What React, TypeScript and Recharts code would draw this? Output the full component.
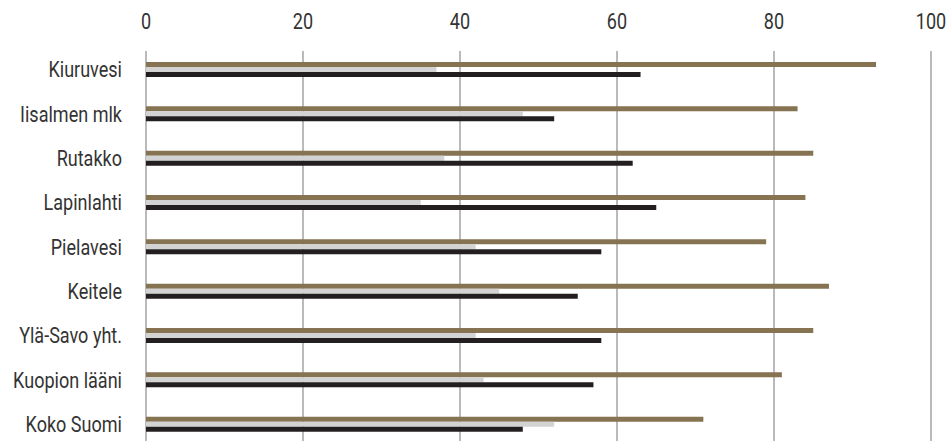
import React from 'react';
import { BarChart, Bar, XAxis, YAxis, CartesianGrid } from 'recharts';

const categories = [
	'Kiuruvesi',
	'Iisalmen mlk',
	'Rutakko',
	'Lapinlahti',
	'Pielavesi',
	'Keitele',
	'Ylä-Savo yht.',
	'Kuopion lääni',
	'Koko Suomi',
];

const seriesA = [93, 83, 85, 84, 79, 87, 85, 81, 71];
const seriesB = [37, 48, 38, 35, 42, 45, 42, 43, 52];
const seriesC = [63, 52, 62, 65, 58, 55, 58, 57, 48];

const xTicks = [0, 20, 40, 60, 80, 100];

const data = categories.map((name, i) => ({
	name,
	a: seriesA[i],
	b: seriesB[i],
	c: seriesC[i],
}));

const FONT = 'Roboto, sans-serif';
const SQUEEZE = 0.82;

// no condensed font installed, so narrow Roboto by hand
const CondensedTick = (props: any) => {
	const { x, y, payload, textAnchor, dy } = props;
	return (
		<g transform={`translate(${x},${y}) scale(${SQUEEZE},1)`}>
			<text
				x={0}
				y={0}
				dy={dy}
				textAnchor={textAnchor}
				fill="#333"
				style={{ fontSize: 22, fontFamily: FONT }}
			>
				{payload.value}
			</text>
		</g>
	);
};

const XTick = (props: any) => <CondensedTick {...props} textAnchor="middle" dy={0} />;
const YTick = (props: any) => <CondensedTick {...props} textAnchor="end" dy={8} />;

const App = () => {
	return (
		<div>
			{/* chart runs past the window bottom like the original; room on the right for the 100 label */}
			<style>{`body{overflow:hidden;margin:8px 0 0 8px} .recharts-surface{overflow:visible}`}</style>
			<BarChart
				width={939}
				height={450}
				data={data}
				layout="vertical"
				barGap={0}
				margin={{ top: 0, right: 16, bottom: 12, left: 8 }}
			>
				<CartesianGrid horizontal={false} stroke="#a3a3a3" strokeWidth={1.5} />
				<XAxis
					type="number"
					orientation="top"
					domain={[0, 100]}
					ticks={xTicks}
					height={43}
					axisLine={false}
					tickLine={false}
					tickSize={0}
					tickMargin={22}
					tick={<XTick />}
				/>
				<YAxis
					type="category"
					dataKey="name"
					width={130}
					padding={{ top: -4, bottom: 0 }}
					axisLine={false}
					tickLine={false}
					tickSize={0}
					tickMargin={24}
					tick={<YTick />}
				/>
				<Bar dataKey="a" fill="#857352" barSize={5} isAnimationActive={false} />
				<Bar dataKey="b" fill="#d3d3d3" barSize={5} isAnimationActive={false} />
				<Bar dataKey="c" fill="#231f20" barSize={5} isAnimationActive={false} />
			</BarChart>
		</div>
	);
};

export default App;
